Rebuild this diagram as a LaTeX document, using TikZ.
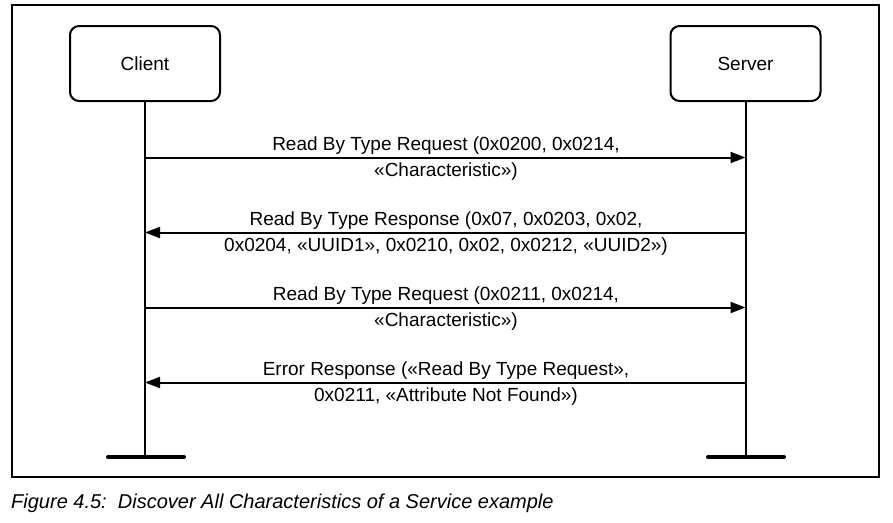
\documentclass[tikz,border=0pt]{standalone}
\usepackage{fontspec}
\setmainfont{Liberation Sans}
\usetikzlibrary{arrows.meta}
\begin{document}
\begin{tikzpicture}[x=1pt,y=-1pt,
  lifebox/.style={draw,line width=2pt,rounded corners=9pt,minimum width=150pt,minimum height=75pt,
    font=\fontsize{19}{22}\selectfont},
  lifeline/.style={line width=2pt},
  endbar/.style={line width=4pt,line cap=round},
  msg/.style={line width=2pt,-{Triangle[length=15pt,width=11pt]}},
  msglabel/.style={align=center,inner sep=0pt,font=\fontsize{19}{26}\selectfont},
  frame/.style={line width=2pt}]
\useasboundingbox (0,0) rectangle (893,522);
% surrounding frame
\draw[frame] (12,5) rectangle (879,477);
% participants
\node[lifebox] (client) at (145,63.5) {Client};
\node[lifebox] (server) at (745.5,63.5) {Server};
% lifeline ends
\coordinate (cend) at (145,457);
\coordinate (send) at (745.5,457);
\draw[lifeline] (client.south) -- (cend);
\draw[lifeline] (server.south) -- (send);
\draw[endbar] (108,457) -- (184,457);
\draw[endbar] (708,457) -- (784,457);
% message anchor points on the lifelines
\coordinate (c1) at (145,157.5);  \coordinate (s1) at (745.5,157.5);
\coordinate (c2) at (145,232.5);  \coordinate (s2) at (745.5,232.5);
\coordinate (c3) at (145,307.5);  \coordinate (s3) at (745.5,307.5);
\coordinate (c4) at (145,382.5);  \coordinate (s4) at (745.5,382.5);
% messages
\draw[msg] (c1) -- (s1);
\draw[msg] (s2) -- (c2);
\draw[msg] (c3) -- (s3);
\draw[msg] (s4) -- (c4);
% labels
\node[msglabel] (l1) at (446,159) {Read By Type Request (0x0200, 0x0214,\\«Characteristic»)};
\node[msglabel] (l2) at (446,234) {Read By Type Response (0x07, 0x0203, 0x02,\\0x0204, «UUID1», 0x0210, 0x02, 0x0212, «UUID2»)};
\node[msglabel] (l3) at (446,309) {Read By Type Request (0x0211, 0x0214,\\«Characteristic»)};
\node[msglabel] (l4) at (446,384) {Error Response («Read By Type Request»,\\0x0211, «Attribute Not Found»)};
% caption
\node[anchor=base west,inner sep=0pt,font=\fontsize{20}{24}\selectfont\itshape] (cap) at (11,508)
  {Figure 4.5:\ \ Discover All Characteristics of a Service example};
\end{tikzpicture}
\end{document}
